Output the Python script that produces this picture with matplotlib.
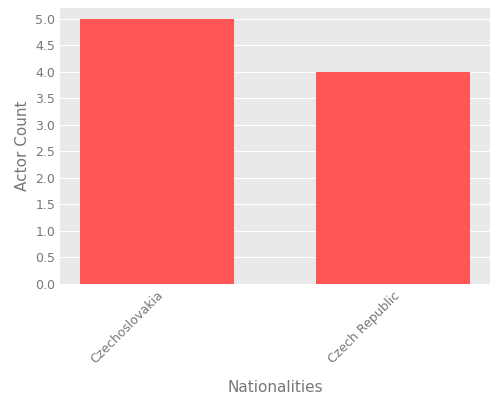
import matplotlib
matplotlib.use('Agg')
import matplotlib.pyplot as plt

nationalities = ['Czechoslovakia', 'Czech Republic']
actor_counts = [5, 4]

fig, ax = plt.subplots(figsize=(5, 4), dpi=100)
ax.set_facecolor('#e9e9e9')
ax.bar(nationalities, actor_counts, color='#ff5555', width=0.65, zorder=2)
ax.set_yticks([i * 0.5 for i in range(11)])
ax.set_ylim(0, 5.2)
ax.grid(axis='y', color='white', linewidth=0.8, zorder=0)
for s in ax.spines.values():
    s.set_visible(False)
ax.tick_params(colors='#777777', labelsize=9, length=0)
plt.setp(ax.get_xticklabels(), rotation=45, ha='right', rotation_mode='anchor')
ax.set_xlabel('Nationalities', color='#777777', fontsize=11, labelpad=10)
ax.set_ylabel('Actor Count', color='#777777', fontsize=11)
plt.subplots_adjust(left=0.12, right=0.98, top=0.98, bottom=0.29)
fig.savefig('out.png')
